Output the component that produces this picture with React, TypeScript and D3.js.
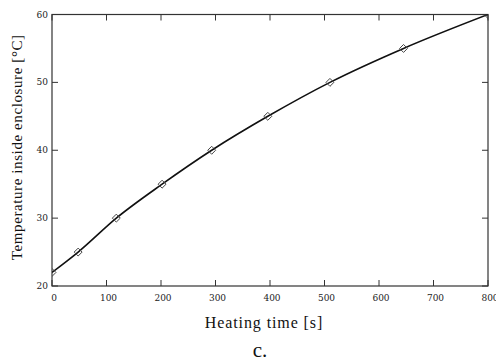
import React, { useEffect, useRef } from 'react';
import * as d3 from 'd3';

// heating curve
const timeS = [0, 48, 118, 202, 293, 396, 510, 645, 800];
const tempC = [22, 25, 30, 35, 40, 45, 50, 55, 60];
const xTicks = [0, 100, 200, 300, 400, 500, 600, 700, 800];
const yTicks = [20, 30, 40, 50, 60];

const W = 496;
const H = 363;
const SERIF = "'Liberation Serif', 'DejaVu Serif', 'Times New Roman', serif";
const TICKFONT = "'DejaVu Serif', 'Liberation Serif', serif";

const App: React.FC = () => {
  const svgRef = useRef<SVGSVGElement>(null);

  useEffect(() => {
    if (!svgRef.current) return;
    const svg = d3.select(svgRef.current);
    svg.selectAll('*').remove();

    const margin = { top: 14.5, right: 8, bottom: 77, left: 52 };
    const iw = W - margin.left - margin.right;
    const ih = H - margin.top - margin.bottom;

    const x = d3.scaleLinear().domain([0, 800]).range([0, iw]);
    const y = d3.scaleLinear().domain([20, 60]).range([ih, 0]);

    const g = svg.append('g').attr('transform', `translate(${margin.left},${margin.top})`);

    svg.append('defs').append('clipPath').attr('id', 'plotclip')
      .append('rect').attr('width', iw).attr('height', ih);

    const tickLen = 6;
    const axisColor = '#333';

    // frame
    g.append('rect')
      .attr('width', iw).attr('height', ih)
      .attr('fill', 'none').attr('stroke', axisColor).attr('stroke-width', 1.2);

    // x ticks (bottom and top, pointing inward)
    xTicks.forEach(t => {
      g.append('line').attr('x1', x(t)).attr('x2', x(t)).attr('y1', ih).attr('y2', ih - tickLen)
        .attr('stroke', axisColor);
      g.append('line').attr('x1', x(t)).attr('x2', x(t)).attr('y1', 0).attr('y2', tickLen)
        .attr('stroke', axisColor);
      g.append('text').attr('x', x(t) + 2).attr('y', ih + 15)
        .attr('text-anchor', 'middle')
        .attr('font-family', TICKFONT).attr('font-size', 9)
        .attr('fill', '#222').text(String(t));
    });

    // y ticks (left and right, pointing inward)
    yTicks.forEach(t => {
      g.append('line').attr('x1', 0).attr('x2', tickLen).attr('y1', y(t)).attr('y2', y(t))
        .attr('stroke', axisColor);
      g.append('line').attr('x1', iw).attr('x2', iw - tickLen).attr('y1', y(t)).attr('y2', y(t))
        .attr('stroke', axisColor);
      g.append('text').attr('x', -4).attr('y', y(t) + 3)
        .attr('text-anchor', 'end')
        .attr('font-family', TICKFONT).attr('font-size', 9)
        .attr('fill', '#222').text(String(t));
    });

    const pts: [number, number][] = timeS.map((t, i) => [t, tempC[i]]);

    const plot = g.append('g').attr('clip-path', 'url(#plotclip)');

    const line = d3.line<[number, number]>()
      .x(d => x(d[0]))
      .y(d => y(d[1]))
      .curve(d3.curveMonotoneX);

    plot.append('path').datum(pts)
      .attr('d', line)
      .attr('fill', 'none').attr('stroke', '#111').attr('stroke-width', 1.6);

    const sym = d3.symbol().type(d3.symbolDiamond2).size(40);
    plot.selectAll('.mk').data(pts).enter().append('path')
      .attr('class', 'mk')
      .attr('transform', d => `translate(${x(d[0])},${y(d[1])})`)
      .attr('d', sym as any)
      .attr('fill', 'none').attr('stroke', '#444').attr('stroke-width', 1);

    // axis labels
    svg.append('text')
      .attr('transform', `translate(22,${margin.top + ih / 2 - 3}) rotate(-90)`)
      .attr('text-anchor', 'middle')
      .attr('font-family', SERIF).attr('font-size', 15)
      .attr('letter-spacing', 0.6)
      .attr('fill', '#111')
      .text('Temperature inside enclosure [°C]');

    svg.append('text')
      .attr('x', 264).attr('y', 328)
      .attr('text-anchor', 'middle')
      .attr('font-family', SERIF).attr('font-size', 16)
      .attr('letter-spacing', 0.9)
      .attr('fill', '#111')
      .text('Heating time [s]');

    svg.append('text')
      .attr('x', 260).attr('y', 357)
      .attr('text-anchor', 'middle')
      .attr('font-family', SERIF).attr('font-size', 21)
      .attr('fill', '#111')
      .text('c.');
  }, []);

  return (
    <svg
      ref={svgRef}
      width={W}
      height={H}
      style={{ position: 'absolute', left: 0, top: 0, background: '#fff' }}
    />
  );
};

export default App;
